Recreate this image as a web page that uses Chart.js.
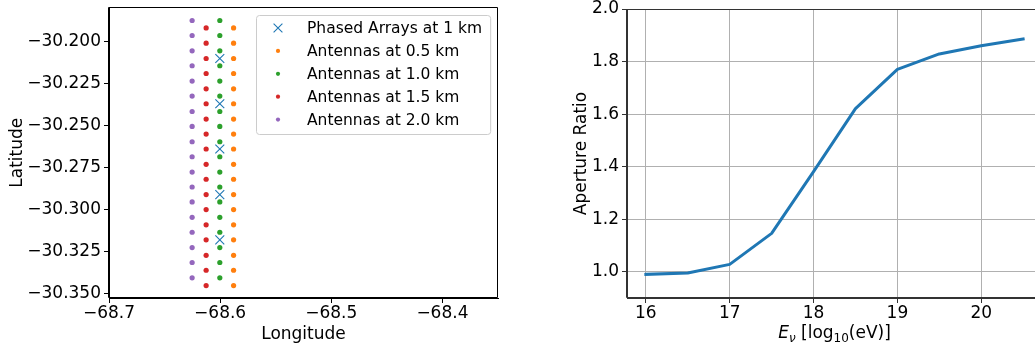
<!DOCTYPE html>
<html><head><meta charset="utf-8">
<script src="https://cdn.jsdelivr.net/npm/chart.js@4"></script>
<style>
html,body{margin:0;padding:0;overflow:hidden;background:#fff;width:1035px;height:349px;}
#c1{position:absolute;left:0;top:0;width:520px;height:349px;}
#c2{position:absolute;left:530px;top:0;width:530px;height:349px;}
</style></head><body>
<canvas id="c1" width="520" height="349"></canvas>
<canvas id="c2" width="530" height="349"></canvas>
<script>
// ---------- Left chart data ----------
const legendLabels = ['Phased Arrays at 1 km','Antennas at 0.5 km','Antennas at 1.0 km','Antennas at 1.5 km','Antennas at 2.0 km'];
const phasedLon = [-68.6003,-68.6003,-68.6003,-68.6003,-68.6003];
const phasedLat = [-30.2101,-30.2370,-30.2639,-30.2910,-30.3179];
const lon05 = -68.5879;
const lat05 = [-30.1919,-30.2010,-30.2101,-30.2190,-30.2281,-30.2370,-30.2461,-30.2550,-30.2639,-30.2730,-30.2819,-30.2910,-30.2999,-30.3090,-30.3179,-30.3271,-30.3360,-30.3451];
const lon10 = -68.6003;
const lat10 = [-30.1875,-30.1964,-30.2055,-30.2144,-30.2235,-30.2324,-30.2416,-30.2505,-30.2596,-30.2685,-30.2776,-30.2865,-30.2954,-30.3045,-30.3134,-30.3225,-30.3314,-30.3405];
const lon15 = -68.6126;
const lat15 = [-30.1919,-30.2010,-30.2101,-30.2190,-30.2281,-30.2370,-30.2461,-30.2550,-30.2639,-30.2730,-30.2819,-30.2910,-30.2999,-30.3090,-30.3179,-30.3271,-30.3360,-30.3451];
const lon20 = -68.6252;
const lat20 = [-30.1875,-30.1964,-30.2055,-30.2144,-30.2235,-30.2324,-30.2416,-30.2505,-30.2596,-30.2685,-30.2776,-30.2865,-30.2954,-30.3045,-30.3134,-30.3225,-30.3314,-30.3405];
const lonTicks = [-68.7,-68.6,-68.5,-68.4];
const latTicks = [-30.200,-30.225,-30.250,-30.275,-30.300,-30.325,-30.350];

// ---------- Right chart data ----------
const energy = [16,16.5,17,17.5,18,18.5,19,19.5,20,20.5];
const apertureRatio = [0.990,0.995,1.028,1.146,1.381,1.621,1.770,1.829,1.860,1.886];
const energyTicks = [16,17,18,19,20];
const ratioTicks = [1.0,1.2,1.4,1.6,1.8,2.0];

Chart.defaults.font.family = "'DejaVu Sans'";
Chart.defaults.color = '#000';
const FONT = {family:"'DejaVu Sans'", size:17};
const fmtMinus = (v,d) => (v<0?'\u2212':'') + Math.abs(v).toFixed(d);
const pts = (lon, lats) => lats.map(y => ({x: lon, y}));
const noPad = s => { s.paddingTop = 0; s.paddingBottom = 0; s.paddingLeft = 0; s.paddingRight = 0; };

const makeFrame = (id, color) => ({
  id,
  afterDraw(chart){
    const a = chart.chartArea, ctx = chart.ctx;
    ctx.save();
    ctx.strokeStyle = color;
    ctx.lineWidth = 1;
    const l = Math.round(a.left)-0.5, t = Math.round(a.top)+0.5, r = Math.round(a.right)-0.5, b = Math.round(a.bottom)-0.5;
    ctx.beginPath();
    ctx.rect(l, t, r-l, b-t);
    ctx.stroke();
    ctx.restore();
  }
});

const legendPlugin = {
  id:'boxLegend',
  afterDraw(chart){
    const ctx = chart.ctx, a = chart.chartArea;
    ctx.save();
    ctx.font = "15.5px 'DejaVu Sans'";
    const ds = chart.data.datasets;
    const tw = Math.max(...ds.map(d => ctx.measureText(d.label).width));
    const w = 51 + tw + 8, h = 119;
    const x0 = Math.round(a.right - 8 - w), y0 = Math.round(a.top + 8);
    ctx.beginPath();
    if (ctx.roundRect) ctx.roundRect(x0+0.5, y0+0.5, w, h, 3); else ctx.rect(x0+0.5, y0+0.5, w, h);
    ctx.fillStyle = 'rgba(255,255,255,0.8)';
    ctx.fill();
    ctx.strokeStyle = '#cccccc';
    ctx.lineWidth = 1;
    ctx.stroke();
    ds.forEach((d, i) => {
      const y = y0 + 13 + i * 22.9;
      const mx = x0 + 22;
      if (d.pointStyle === 'crossRot') {
        const s = 4.4;
        ctx.beginPath();
        ctx.moveTo(mx - s, y - s); ctx.lineTo(mx + s, y + s);
        ctx.moveTo(mx + s, y - s); ctx.lineTo(mx - s, y + s);
        ctx.strokeStyle = d.borderColor; ctx.lineWidth = 1.1; ctx.stroke();
      } else {
        ctx.beginPath(); ctx.arc(mx, y, 2.1, 0, Math.PI*2);
        ctx.fillStyle = d.backgroundColor; ctx.fill();
      }
      ctx.fillStyle = '#000';
      ctx.textBaseline = 'middle';
      ctx.textAlign = 'left';
      ctx.fillText(d.label, x0 + 51, y + 1);
    });
    ctx.restore();
  }
};

const dot = (label, color, data) => ({label, data, pointStyle:'circle', pointRadius:2.6, pointHoverRadius:2.6, backgroundColor:color, borderColor:color, borderWidth:0, showLine:false});

new Chart(document.getElementById('c1'), {
  type:'scatter',
  data:{datasets:[
    {label:legendLabels[0], data: phasedLon.map((x,i)=>({x, y: phasedLat[i]})), pointStyle:'crossRot', pointRadius:6.3, pointHoverRadius:6.3, borderColor:'#1f77b4', backgroundColor:'#1f77b4', borderWidth:1.1, order:0},
    Object.assign(dot(legendLabels[1], '#ff7f0e', pts(lon05, lat05)), {order:4}),
    Object.assign(dot(legendLabels[2], '#2ca02c', pts(lon10, lat10)), {order:3}),
    Object.assign(dot(legendLabels[3], '#d62728', pts(lon15, lat15)), {order:2}),
    Object.assign(dot(legendLabels[4], '#9467bd', pts(lon20, lat20)), {order:1})
  ]},
  options:{
    responsive:false, animation:false, devicePixelRatio:1,
    layout:{padding:{left:0, top:7, right:22, bottom:0}},
    plugins:{legend:{display:false}, tooltip:{enabled:false}},
    scales:{
      x:{type:'linear', min:-68.7, max:-68.35,
        afterBuildTicks: s => { s.ticks = lonTicks.map(v => ({value:v})); },
        afterFit: s => { s.height = 51; noPad(s); },
        ticks:{font:FONT, color:'#000', padding:0, maxRotation:0, autoSkip:false, callback: v => fmtMinus(v,1)},
        grid:{drawOnChartArea:false, drawTicks:true, tickLength:5, color:'#000', tickColor:'#000'},
        border:{display:true, color:'#000', width:1},
        title:{display:true, text:'Longitude', font:FONT, color:'#000', padding:{top:0, bottom:3.8}}
      },
      y:{type:'linear', min:-30.3525, max:-30.1797,
        afterBuildTicks: s => { s.ticks = latTicks.map(v => ({value:v})); },
        afterFit: s => { s.width = 109; noPad(s); },
        ticks:{font:FONT, color:'#000', padding:3, autoSkip:false, callback: v => fmtMinus(v,3)},
        grid:{drawOnChartArea:false, drawTicks:true, tickLength:5, color:'#000', tickColor:'#000'},
        border:{display:true, color:'#000', width:1},
        title:{display:true, text:'Latitude', font:FONT, color:'#000', padding:{top:7, bottom:0}}
      }
    }
  },
  plugins:[makeFrame('frameL', '#000'), legendPlugin]
});

const xTitlePlugin = {
  id:'xTitleMath',
  afterDraw(chart){
    const ctx = chart.ctx, a = chart.chartArea;
    const base = 338;
    const segs = [
      {t:'E', f:"italic 17px 'DejaVu Sans'", dy:0},
      {t:'\u03bd', f:"italic 12px 'DejaVu Sans'", dy:3.5},
      {t:' [log', f:"17px 'DejaVu Sans'", dy:0},
      {t:'10', f:"12px 'DejaVu Sans'", dy:3.5},
      {t:'(eV)]', f:"17px 'DejaVu Sans'", dy:0}
    ];
    ctx.save();
    ctx.textBaseline = 'alphabetic'; ctx.textAlign = 'left'; ctx.fillStyle = '#000';
    let total = 0;
    segs.forEach(s => { ctx.font = s.f; s.w = ctx.measureText(s.t).width; total += s.w; });
    let x = (a.left + a.right)/2 - total/2;
    segs.forEach(s => { ctx.font = s.f; ctx.fillText(s.t, x, base + s.dy); x += s.w; });
    ctx.restore();
  }
};

new Chart(document.getElementById('c2'), {
  type:'scatter',
  data:{datasets:[{label:'Aperture Ratio', data: energy.map((x,i)=>({x, y: apertureRatio[i]})), showLine:true, borderColor:'#1f77b4', backgroundColor:'#1f77b4', borderWidth:3, pointRadius:0, pointHoverRadius:0, tension:0, fill:false, borderCapStyle:'square', borderJoinStyle:'round'}]},
  options:{
    responsive:false, animation:false, devicePixelRatio:1,
    layout:{padding:{left:0, top:9, right:18, bottom:0}},
    plugins:{legend:{display:false}, tooltip:{enabled:false}},
    scales:{
      x:{type:'linear', min:15.775, max:20.725,
        afterBuildTicks: s => { s.ticks = energyTicks.map(v => ({value:v})); },
        afterFit: s => { s.height = 51; noPad(s); },
        ticks:{font:FONT, color:'#000', padding:0, maxRotation:0, autoSkip:false, callback: v => String(v)},
        grid:{drawOnChartArea:true, drawTicks:true, tickLength:5, color:'#b0b0b0', lineWidth:1, tickColor:'#333'},
        border:{display:true, color:'#333', width:1},
        title:{display:false}
      },
      y:{type:'linear', min:0.9, max:2.0,
        afterBuildTicks: s => { s.ticks = ratioTicks.map(v => ({value:v})); },
        afterFit: s => { s.width = 97; noPad(s); },
        ticks:{font:FONT, color:'#000', padding:3, autoSkip:false, callback: v => v.toFixed(1)},
        grid:{drawOnChartArea:true, drawTicks:true, tickLength:5, color:'#b0b0b0', lineWidth:1, tickColor:'#333'},
        border:{display:true, color:'#333', width:1},
        title:{display:true, text:'Aperture Ratio', font:FONT, color:'#000', padding:{top:41.8, bottom:0}}
      }
    }
  },
  plugins:[makeFrame('frameR', '#333'), xTitlePlugin]
});
</script>
</body></html>
